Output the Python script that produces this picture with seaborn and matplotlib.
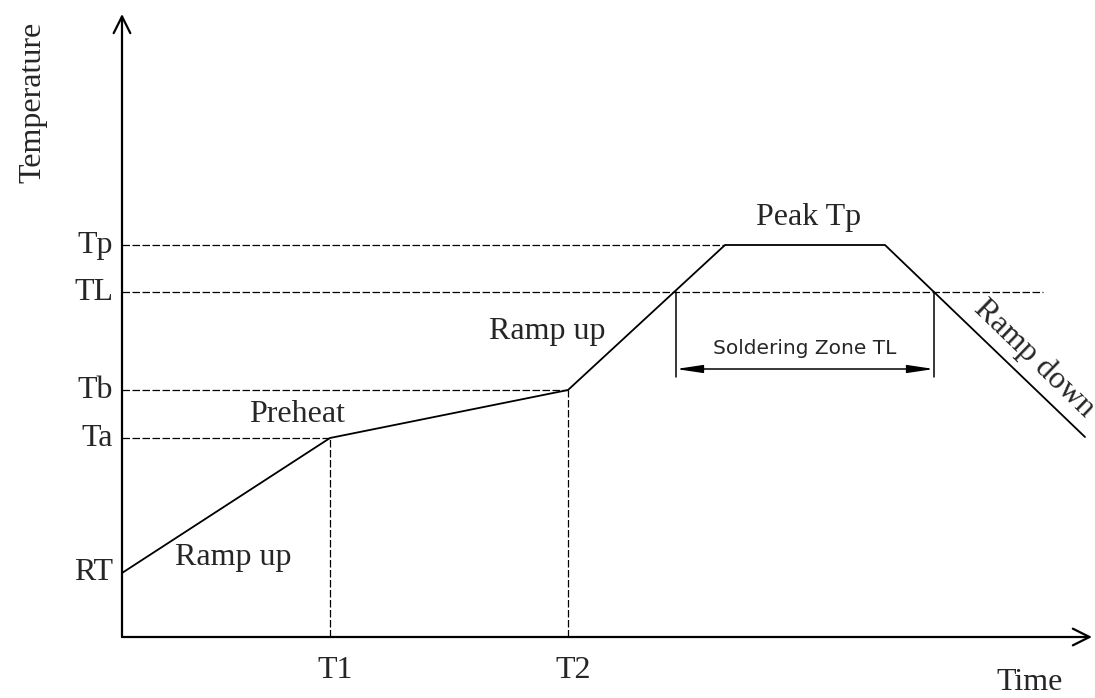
import numpy as np
import pandas as pd
import matplotlib
matplotlib.use("Agg")
import matplotlib.pyplot as plt
import seaborn as sns

# reflow profile, time / temperature in drawing units (axis origin = 0)
profile_time = [0, 208, 446, 603, 763, 963]
profile_temp = [64, 199, 247, 392, 392, 200]

level_names = ["Tp", "TL", "Tb", "Ta", "RT"]
level_temps = [392, 345, 247, 199, 64]
level_ends = [603, 921, 446, 208, None]   # where the dashed guide stops

time_names = ["T1", "T2"]
time_marks = [208, 446]

zone_start, zone_end = 554, 812
zone_label = "Soldering Zone TL"

sns.set_style("white")
plt.rcParams["font.family"] = ["Liberation Serif", "DejaVu Serif"]
FS = 23

fig = plt.figure(figsize=(10.95, 6.98), dpi=100)
ax = fig.add_axes([0, 0, 1, 1])
ax.set_xlim(-122, 973)
ax.set_ylim(-61, 637)
ax.axis("off")

# axes with open arrows
ax.annotate("", xy=(0, 623), xytext=(0, 0),
            arrowprops=dict(arrowstyle="->", lw=1.6, color="black",
                            mutation_scale=30, shrinkA=0, shrinkB=0))
ax.annotate("", xy=(970, 0), xytext=(0, 0),
            arrowprops=dict(arrowstyle="->", lw=1.6, color="black",
                            mutation_scale=30, shrinkA=0, shrinkB=0))

# profile curve
df = pd.DataFrame({"time": profile_time, "temp": profile_temp})
sns.lineplot(data=df, x="time", y="temp", ax=ax, color="black", lw=1.3,
             sort=False, estimator=None)

dash = (0, (6, 2))
for name, t, end in zip(level_names, level_temps, level_ends):
    if end is not None:
        ax.plot([0, end], [t, t], color="black", lw=0.9, linestyle=dash)
    ax.text(-9, t, name, ha="right", va="center", fontsize=FS)

tmap = dict(zip(profile_time, profile_temp))
for name, tm in zip(time_names, time_marks):
    ax.plot([tm, tm], [0, tmap[tm]], color="black", lw=0.9, linestyle=dash)
    ax.text(tm + 5, -33, name, ha="center", va="center", fontsize=FS)

# soldering zone dimension
tl = level_temps[1]
for x in (zone_start, zone_end):
    ax.plot([x, x], [tl, tl - 85], color="black", lw=1.1)
ax.annotate("", xy=(zone_end, tl - 77), xytext=(zone_start, tl - 77),
            arrowprops=dict(arrowstyle="<|-|>,head_length=0.8,head_width=0.12",
                            lw=1.1, color="black", mutation_scale=20,
                            shrinkA=0, shrinkB=0))
ax.text((zone_start + zone_end) / 2, tl - 56, zone_label, ha="center",
        va="center", fontsize=14.5, family="DejaVu Sans")

# segment labels
ax.text(111, 80, "Ramp up", ha="center", va="center", fontsize=FS)
ax.text(175, 222, "Preheat", ha="center", va="center", fontsize=FS)
ax.text(425, 305, "Ramp up", ha="center", va="center", fontsize=FS)
ax.text(687, 419, "Peak Tp", ha="center", va="center", fontsize=FS)
ax.text(856, 333, "Ramp down", ha="left", va="center", fontsize=FS,
        rotation=-44, rotation_mode="anchor")

ax.text(-89, 535, "Temperature", ha="center", va="center", fontsize=FS,
        rotation=90)
ax.text(908, -45, "Time", ha="center", va="center", fontsize=FS)

fig.savefig("out.png", dpi=100)
